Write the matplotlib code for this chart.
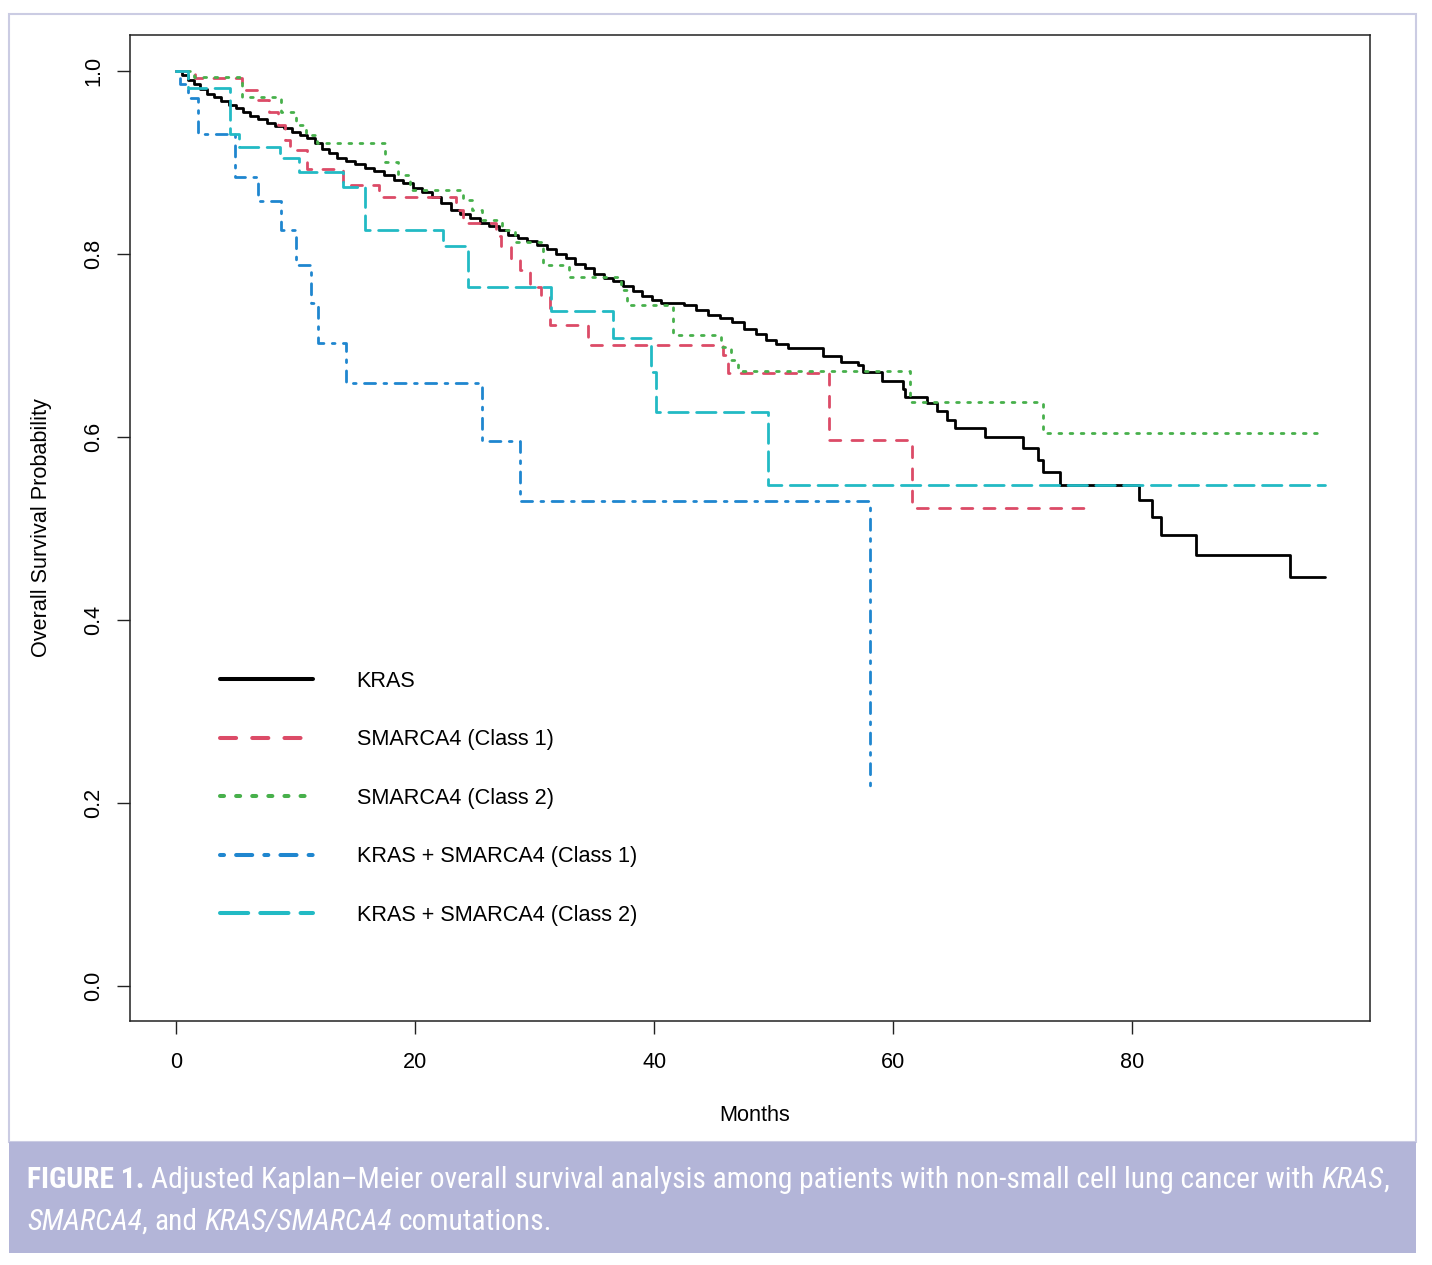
import matplotlib
matplotlib.use('Agg')
import matplotlib.pyplot as plt
from matplotlib.lines import Line2D
from matplotlib.patches import Rectangle
from matplotlib import font_manager
from matplotlib.font_manager import FontProperties

# survival curves (months, probability), step functions
kras_t = [0, 0.5, 1.0, 1.5, 2.0, 2.6, 3.2, 3.8, 4.4, 5.0, 5.6, 6.2, 6.9, 7.6, 8.3, 9.0,
          9.7, 10.4, 11.0, 11.6, 12.2, 12.8, 13.5, 14.2, 15.0, 15.8, 16.6, 17.4, 18.2,
          19.0, 19.8, 20.6, 21.4, 22.2, 23.0, 23.8, 24.6, 25.4, 26.2, 27.0, 27.8, 28.6,
          29.4, 30.2, 31.0, 31.8, 32.6, 33.4, 34.2, 35.0, 35.8, 36.6, 37.4, 38.2, 39.0,
          39.8, 40.6, 42.5, 43.5, 44.5, 45.5, 46.5, 47.5, 48.5, 49.4, 50.2, 51.2, 54.1,
          55.6, 57.1, 57.5, 59.1, 60.8, 61.0, 62.8, 63.7, 64.5, 65.2, 67.7, 70.9, 72.1,
          72.5, 74.0, 80.6, 81.7, 82.4, 85.3, 93.2, 96.1]
kras_s = [1.0, 0.995, 0.99, 0.985, 0.98, 0.975, 0.971, 0.967, 0.963, 0.959, 0.955, 0.951,
          0.947, 0.943, 0.94, 0.937, 0.933, 0.93, 0.926, 0.921, 0.915, 0.91, 0.905, 0.901,
          0.898, 0.894, 0.89, 0.886, 0.881, 0.877, 0.872, 0.867, 0.862, 0.855, 0.848,
          0.843, 0.839, 0.834, 0.83, 0.826, 0.821, 0.817, 0.814, 0.81, 0.805, 0.8, 0.795,
          0.789, 0.784, 0.778, 0.774, 0.77, 0.765, 0.759, 0.754, 0.75, 0.746, 0.744,
          0.739, 0.733, 0.73, 0.726, 0.718, 0.712, 0.706, 0.702, 0.697, 0.688, 0.682,
          0.679, 0.671, 0.661, 0.652, 0.644, 0.637, 0.628, 0.619, 0.61, 0.6, 0.588,
          0.575, 0.562, 0.548, 0.531, 0.513, 0.493, 0.471, 0.447, 0.447]

c1_t = [0, 1.6, 5.5, 6.8, 7.8, 8.5, 9.1, 9.5, 11.0, 14.0, 17.0, 23.4, 24.0, 26.8, 27.2,
        28.0, 28.8, 29.6, 30.5, 31.3, 34.5, 45.8, 46.2, 54.6, 61.6, 76.8]
c1_s = [1.0, 0.992, 0.979, 0.968, 0.955, 0.941, 0.924, 0.913, 0.893, 0.875, 0.862, 0.848,
        0.834, 0.819, 0.808, 0.793, 0.782, 0.764, 0.753, 0.722, 0.7, 0.69, 0.67, 0.597,
        0.522, 0.522]

c2_t = [0, 1.5, 5.5, 8.8, 10.0, 10.9, 11.8, 17.5, 18.6, 19.6, 24.0, 24.8, 25.6, 27.3,
        28.4, 30.7, 32.9, 37.2, 37.7, 41.6, 45.6, 46.4, 47.0, 61.4, 72.5, 95.6]
c2_s = [1.0, 0.993, 0.971, 0.955, 0.941, 0.93, 0.921, 0.9, 0.886, 0.87, 0.859, 0.848,
        0.837, 0.826, 0.813, 0.788, 0.775, 0.76, 0.744, 0.711, 0.698, 0.684, 0.672,
        0.638, 0.604, 0.604]

kc1_t = [0, 0.3, 1.0, 1.8, 4.9, 6.9, 8.8, 10.0, 11.3, 11.9, 14.2, 25.6, 28.8, 58.1]
kc1_s = [1.0, 0.985, 0.97, 0.931, 0.884, 0.858, 0.826, 0.788, 0.746, 0.703, 0.659,
         0.595, 0.53, 0.217]

kc2_t = [0, 1.0, 4.5, 5.3, 8.7, 10.3, 14.0, 15.8, 22.3, 24.4, 31.4, 36.6, 39.7, 40.2,
         49.5, 96.1]
kc2_s = [1.0, 0.981, 0.931, 0.917, 0.905, 0.889, 0.873, 0.826, 0.808, 0.764, 0.737,
         0.708, 0.671, 0.627, 0.548, 0.548]

labels = ['KRAS', 'SMARCA4 (Class 1)', 'SMARCA4 (Class 2)',
          'KRAS + SMARCA4 (Class 1)', 'KRAS + SMARCA4 (Class 2)']
colors = ['black', '#DC4B67', '#47B04B', '#1F86CF', '#22BAC4']
dashes = [None, (4, 4), (1, 3), (1, 3, 4, 3), (7, 3)]

# caption pieces: (text, style, space before)
cap_line1 = [('FIGURE 1.', 'b', False),
             ('Adjusted Kaplan–Meier overall survival analysis among patients with '
              'non-small cell lung cancer with', 'r', True),
             ('KRAS', 'i', True), (',', 'r', False)]
cap_line2 = [('SMARCA4', 'i', False), (',', 'r', False), ('and', 'r', True),
             ('KRAS/SMARCA4', 'i', True), ('comutations.', 'r', True)]

plt.rcParams['font.family'] = ['Liberation Sans', 'DejaVu Sans']


def is_condensed(f):
    st = f.stretch
    if isinstance(st, str):
        if 'condensed' in st:
            return True
    elif st < 100 * 1.0 and st != 0:
        pass
    return 'ondensed' in f.name or 'Narrow' in f.name


def wnum(w):
    if isinstance(w, str):
        return font_manager.weight_dict.get(w, 400)
    return w


def cap_font(style):
    prefer = ['Roboto Condensed', 'Open Sans Condensed', 'Noto Sans', 'Liberation Sans Narrow',
              'DejaVu Sans Condensed', 'DejaVu Sans']
    cands = []
    for f in font_manager.fontManager.ttflist:
        if not is_condensed(f):
            continue
        bold = wnum(f.weight) >= 600
        ital = f.style in ('italic', 'oblique')
        if style == 'b' and not (bold and not ital):
            continue
        if style == 'i' and not (ital and not bold):
            continue
        if style == 'r' and (bold or ital or wnum(f.weight) < 350):
            continue
        rank = prefer.index(f.name) if f.name in prefer else len(prefer)
        cands.append((rank, f.fname))
    if cands:
        cands.sort()
        return FontProperties(fname=cands[0][1])
    return FontProperties(family='Liberation Sans',
                          weight='bold' if style == 'b' else 'normal',
                          style='italic' if style == 'i' else 'normal')


W, H = 1432, 1265
fig = plt.figure(figsize=(W / 100, H / 100), dpi=100)
ax = fig.add_axes([130 / W, 1 - 1021 / H, 1240 / W, 986 / H])

curves = [(kras_t, kras_s), (c1_t, c1_s), (c2_t, c2_s), (kc1_t, kc1_s), (kc2_t, kc2_s)]
handles = []
for (t, s), col, d, lab in zip(curves, colors, dashes, labels):
    kw = dict(color=col, solid_capstyle='round', dash_capstyle='round',
              solid_joinstyle='round', dash_joinstyle='round')
    if d is not None:
        kw['dashes'] = d
    ax.plot(t, s, lw=2.0, drawstyle='steps-post', **kw)
    handles.append(Line2D([], [], lw=2.9, label=lab, **kw))

ax.set_xlim(-3.85, 99.9)
ax.set_ylim(-0.038, 1.039)
ax.set_xticks([0, 20, 40, 60, 80])
ax.set_yticks([0.0, 0.2, 0.4, 0.6, 0.8, 1.0])
ax.set_yticklabels(['0.0', '0.2', '0.4', '0.6', '0.8', '1.0'])
ax.tick_params(length=9.4, width=1.0, labelsize=15.6, color='#222222')
ax.tick_params(axis='x', pad=13)
ax.tick_params(axis='y', labelrotation=90, pad=9)
for lab in ax.get_yticklabels():
    lab.set_va('center')
for sp in ax.spines.values():
    sp.set_linewidth(1.1)
    sp.set_color('#222222')

ax.set_xlabel('Months', fontsize=15.6)
ax.xaxis.set_label_coords(0.5036, -0.085)
ax.set_ylabel('Overall Survival Probability', fontsize=15.6)
ax.yaxis.set_label_coords(-0.0625, 0.5)

ax.legend(handles=handles, loc='upper left', bbox_to_anchor=(0.0726, 0.355),
          frameon=False, fontsize=15.6, handlelength=4.3, handletextpad=2.0,
          labelspacing=1.73, borderpad=0, borderaxespad=0)

# outer frame and caption band
fig.patches.append(Rectangle((9 / W, 1 - 1142 / H), 1407 / W, 1128 / H,
                             transform=fig.transFigure, fill=False,
                             edgecolor='#cbcce3', lw=1.5))
fig.patches.append(Rectangle((9 / W, 1 - 1253 / H), 1407 / W, 111 / H,
                             transform=fig.transFigure, facecolor='#b3b5d8',
                             edgecolor='none'))

fonts = {k: cap_font(k) for k in 'rbi'}
renderer = fig.canvas.get_renderer()


def place_line(pieces, y, size):
    x = 27
    objs = []
    sp = fig.text(0, 0, 'a a', fontproperties=fonts['r'], fontsize=size)
    nsp = fig.text(0, 0, 'aa', fontproperties=fonts['r'], fontsize=size)
    gap = sp.get_window_extent(renderer).width - nsp.get_window_extent(renderer).width
    sp.remove()
    nsp.remove()
    for txt, st, space in pieces:
        if space:
            x += gap
        t = fig.text(x / W, 1 - y / H, txt, fontproperties=fonts[st], fontsize=size,
                     color='white', va='center', ha='left')
        x += t.get_window_extent(renderer).width
        objs.append(t)
    return objs, x - 27


objs, width = place_line(cap_line1, 1180, 22)
for o in objs:
    o.remove()
size = 22 * 1363 / width
place_line(cap_line1, 1180, size)
place_line(cap_line2, 1222, size)

fig.savefig('out.png', dpi=100)
